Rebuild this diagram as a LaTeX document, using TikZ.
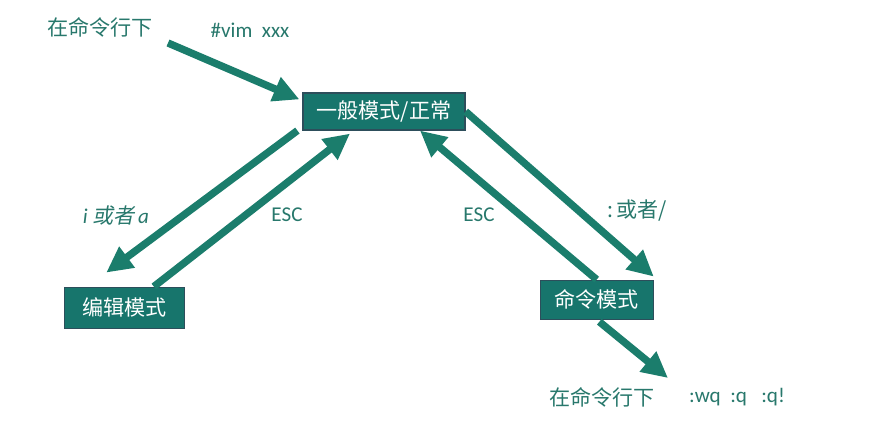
\documentclass[tikz,border=0pt]{standalone}
\usepackage{fontspec}
\setmainfont{Carlito}
\newfontfamily\cjk{Noto Sans CJK SC}
\newfontfamily\cjkit[FakeSlant=0.2]{Noto Sans CJK SC}
\usepackage{tikz}
\usetikzlibrary{arrows.meta,positioning,calc}
\definecolor{vimgreen}{RGB}{27,125,108}
\definecolor{boxfill}{RGB}{23,117,108}
\definecolor{boxline}{RGB}{45,78,91}
\definecolor{labelgreen}{RGB}{40,120,108}

\begin{document}
\begin{tikzpicture}[-{Triangle[length=0.78cm,width=0.74cm]},line width=6.3pt,draw=vimgreen,
	box/.style={draw=boxline,line width=1pt,fill=boxfill,text=white,inner sep=0pt,font=\cjk\fontsize{18}{20}\selectfont},
	tag/.style={text=labelgreen,inner sep=0pt,font=\fontsize{18}{20}\selectfont},
	cjktag/.style={tag,font=\cjk\fontsize{18}{20}\selectfont}]
	\useasboundingbox (0,0) rectangle (26.34,-13.02);

	\node[box,minimum width=4.86cm,minimum height=1.11cm]	(normal)	at (11.52,-3.345)				{一般模式/正常};
	\node[box,minimum width=3.6cm,minimum height=1.23cm]	(edit)		[below left=4.68cm and 3.51cm of normal]	{编辑模式};
	\node[box,minimum width=3.39cm,minimum height=1.17cm]	(cmd)		[below right=4.47cm and 2.22cm of normal]	{命令模式};

	\node[cjktag]	(shell)		at (3.0,-0.81)		{在命令行下};
	\node[tag]		(vim)		at (7.5,-0.9)		{\#vim\ \ xxx};
	\node[tag]		(insert)	at (3.48,-6.45)		{\textit{i} {\cjkit 或者}\,\textit{a}};
	\node[tag]		(escl)		at (8.61,-6.45)		{ESC};
	\node[tag]		(escr)		at (14.37,-6.45)	{ESC};
	\node[cjktag]	(colon)		at (19.11,-6.33)	{:\,或者/};
	\node[cjktag]	(shell2)	at (18.06,-11.91)	{在命令行下};
	\node[tag]		(quit)		at (22.11,-11.91)	{:wq\ \ :q\ \ \ :q!};

	\coordinate	(start)	at (5.04,-1.29);
	\coordinate	(exit)	at (20.04,-11.34);

	\path
		(start)											edge	($(normal.north west)+(-0.09,-0.21)$)
		($(normal.south west)+(-0.15,0)$)				edge	($(edit.north west)+(1.26,0.42)$)
		($(edit.north)+(0.87,0)$)						edge	($(normal.south)+(-1.02,-0.09)$)
		(cmd.north)										edge	($(normal.south)+(1.08,0)$)
		(normal.east)									edge	($(cmd.north east)+(0,0.09)$)
		($(cmd.south)+(0.08,-0.06)$)					edge	(exit)
	;
\end{tikzpicture}
\end{document}
